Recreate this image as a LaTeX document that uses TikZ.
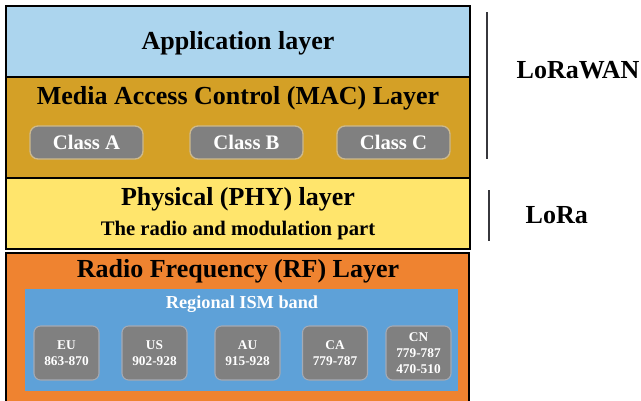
\documentclass[tikz,border=0pt]{standalone}
\usepackage{fontspec}
\setmainfont{Liberation Serif}
\definecolor{appblue}{RGB}{172,213,238}
\definecolor{macgold}{RGB}{212,160,38}
\definecolor{phyyellow}{RGB}{255,229,108}
\definecolor{rforange}{RGB}{239,131,48}
\definecolor{ismblue}{RGB}{94,161,216}
\definecolor{boxgray}{RGB}{128,128,128}
\definecolor{bargray}{RGB}{55,55,60}
\tikzset{
  layer/.style={draw=black, line width=1.3pt},
  title/.style={anchor=base, font=\bfseries\fontsize{19.5}{21}\selectfont},
  classbox/.style={fill=boxgray, draw={rgb,255:red,205;green,185;blue,140}, line width=1pt,
    rounded corners=6pt, minimum width=84.75pt, minimum height=24.75pt, inner sep=0pt,
    text=white, font=\bfseries\fontsize{15.5}{17}\selectfont},
  bandbox/.style={fill=boxgray, draw={rgb,255:red,165;green,170;blue,180}, line width=0.8pt,
    rounded corners=5pt, minimum width=48.75pt, minimum height=40.5pt, inner sep=0pt,
    text=white, align=center, font=\bfseries\fontsize{10}{11.8}\selectfont},
  bar/.style={draw=bargray, line width=1.2pt}
}
\begin{document}
\begin{tikzpicture}[x=0.75pt,y=-0.75pt]
\clip (0,0) rectangle (641,400);
\fill[white] (0,0) rectangle (641,400);
% layer stack
\filldraw[layer, fill=appblue] (6,6) rectangle (470,77);
\filldraw[layer, fill=macgold] (6,77) rectangle (470,178);
\filldraw[layer, fill=phyyellow] (6,178) rectangle (470,249);
\filldraw[layer, fill=rforange] (6,253) rectangle (469,410);
\fill[ismblue] (25,289) rectangle (458,391);
% titles
\node[title] (app) at (238,49) {Application layer};
\node[title] (mac) at (238,104.5) {Media Access Control (MAC) Layer};
\node[title] (phy) at (238,205) {Physical (PHY) layer};
\node[anchor=base, font=\bfseries\fontsize{15.5}{17}\selectfont] (phytext) at (238,235.5) {The radio and modulation part};
\node[title] (rf) at (238,277) {Radio Frequency (RF) Layer};
\node[anchor=base, text=white, font=\bfseries\fontsize{13.7}{15}\selectfont] (ism) at (242,308) {Regional ISM band};
% MAC classes
\node[classbox] (classa) at (86.5,142.5) {Class A};
\node[classbox] (classb) at (246.5,142.5) {Class B};
\node[classbox] (classc) at (393.5,142.5) {Class C};
% regional bands
\node[bandbox] (eu) at (66.5,353) {EU\\863-870};
\node[bandbox] (us) at (154.5,353) {US\\902-928};
\node[bandbox] (au) at (247.5,353) {AU\\915-928};
\node[bandbox] (ca) at (335,353) {CA\\779-787};
\node[bandbox] (cn) at (418.5,353) {CN\\779-787\\470-510};
% brackets on the right
\coordinate (wantop) at (487,12);
\coordinate (wanbot) at (487,159);
\coordinate (loratop) at (489,190);
\coordinate (lorabot) at (489,241);
\draw[bar] (wantop) -- (wanbot);
\draw[bar] (loratop) -- (lorabot);
\node[title, anchor=base west] (lorawan) at (512,78) {LoRaWAN};
\node[title, anchor=base west] (lora) at (521,223) {LoRa};
\end{tikzpicture}
\end{document}
